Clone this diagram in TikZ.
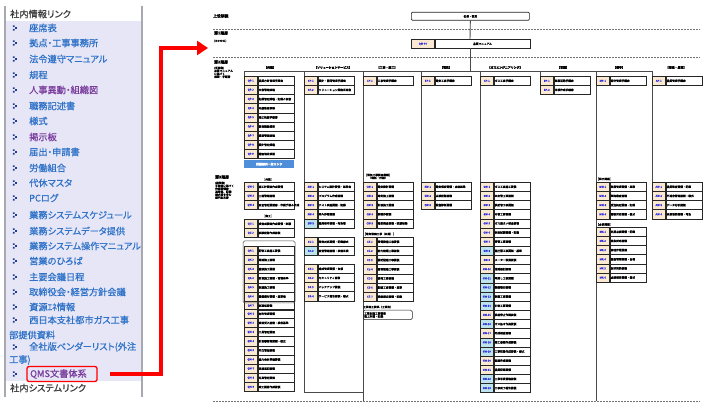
\documentclass[tikz,border=0pt]{standalone}
\usepackage{fontspec}
\setmainfont[RawFeature={+palt;embolden=0.7}]{Noto Sans CJK JP}
\newfontfamily\docf[RawFeature={embolden=0.6}]{Noto Sans CJK JP}
\usetikzlibrary{arrows.meta}
\definecolor{lav}{HTML}{E6E6F7}
\definecolor{panelgray}{HTML}{A8A8B0}
\definecolor{linkblue}{HTML}{2F72C8}
\definecolor{linkpurple}{HTML}{7A3C9C}
\definecolor{headgray}{HTML}{3A3A3A}
\definecolor{bulblue}{HTML}{203C90}
\definecolor{codeo}{HTML}{FCE9D2}
\definecolor{codeb}{HTML}{BDE3EC}
\definecolor{codetext}{HTML}{2A2AE0}
\definecolor{barblue}{HTML}{4F8FDA}
\definecolor{framegray}{HTML}{4A4A4A}
\newcommand\tinyf{\docf\fontsize{2.7}{2.95}\selectfont}
\newcommand\tinyb{\docf\bfseries\fontsize{2.9}{3.2}\selectfont}
\newcommand\levf{\docf\bfseries\fontsize{3.8}{4.2}\selectfont}
\newcommand\docrows[5]{%
  \foreach \ff/\dd [count=\rr] in {#5} {
    \node[codecell, fill=code\ff] (#3c\rr) at (#1,{#2+(\rr-1)*9.15}) {#4\rr};
    \node[desccell] (#3d\rr) at (#3c\rr.east) {\dd};
  }%
}
\tikzset{
  mitem/.style={anchor=west, inner sep=0pt, text=linkblue, font=\fontsize{9.2}{10}\selectfont},
  visited/.style={text=linkpurple},
  mhead/.style={anchor=west, inner sep=0pt, text=headgray, font=\fontsize{9.2}{10}\selectfont},
  bul/.pic={\fill[bulblue] (-1.6,-2.6) rectangle +(1.6,1.6) (-1.6,1.0) rectangle +(1.6,1.6) (0.7,-0.8) rectangle +(1.6,1.6);},
  codecell/.style={draw=black!85, line width=0.5pt, anchor=north west, minimum width=13pt, minimum height=9.15pt, inner sep=0pt, text=codetext, font=\tinyf},
  desccell/.style={draw=black!85, line width=0.5pt, anchor=west, minimum height=9.15pt, text width=34pt, inner xsep=1pt, inner ysep=0pt, align=left, font=\tinyf},
  frame/.style={draw=framegray, line width=0.9pt},
  lvldash/.style={draw=black!55, line width=0.8pt, dash pattern=on 2pt off 1pt},
  collab/.style={inner sep=0pt, font=\tinyb},
  grplab/.style={inner sep=0pt, font=\tinyf},
  redarrow/.style={draw=red, line width=3.6pt, -{Triangle[length=11pt,width=14pt]}},
}
\begin{document}
\begin{tikzpicture}[x=1pt,y=-1pt]
\useasboundingbox (0,0) rectangle (713,411);
\fill[white] (0,0) rectangle (713,411);

% ---------- left menu panel ----------
\fill[lav] (5,21) rectangle (142,381);
\draw[panelgray, line width=1.3pt] (5,6) -- (5,397);
\draw[panelgray, line width=1.3pt] (142,6) -- (142,397);

\node[mhead] (hd) at (10,14) {社内情報リンク};
\foreach \yy in {28,43,59,75,90,106,121,137,152,168,183,198,215,231,246,261,277,292,307,320,347,374}
  \pic at (14.5,\yy) {bul};
\node[mitem] (m1) at (29,28) {座席表};
\node[mitem] (m2) at (29,43) {拠点・工事事務所};
\node[mitem] (m3) at (29,59) {法令遵守マニュアル};
\node[mitem] (m4) at (29,75) {規程};
\node[mitem,visited] (m5) at (29,90) {人事異動・組織図};
\node[mitem] (m6) at (29,106) {職務記述書};
\node[mitem] (m7) at (29,121) {様式};
\node[mitem,visited] (m8) at (29,137) {掲示板};
\node[mitem] (m9) at (29,152) {届出・申請書};
\node[mitem] (m10) at (29,168) {労働組合};
\node[mitem] (m11) at (29,183) {代休マスタ};
\node[mitem] (m12) at (29,198) {PCログ};
\node[mitem] (m13) at (29,215) {業務システムスケジュール};
\node[mitem] (m14) at (29,231) {業務システムデータ提供};
\node[mitem] (m15) at (29,246) {業務システム操作マニュアル};
\node[mitem] (m16) at (29,261) {営業のひろば};
\node[mitem] (m17) at (29,277) {主要会議日程};
\node[mitem] (m18) at (29,292) {取締役会・経営方針会議};
\node[mitem] (m19) at (29,307) {資源ｴﾈ情報};
\node[mitem] (m20) at (29,320) {西日本支社都市ガス工事};
\node[mitem] (m20b) at (9,335) {部提供資料};
\node[mitem] (m21) at (29,347) {全社版ベンダーリスト(外注};
\node[mitem] (m21b) at (9,360) {工事)};
\node[mitem,visited] (qms) at (30,374) {QMS文書体系};
\draw[red, line width=1.3pt, rounded corners=2pt] (27,366.5) rectangle (97,381.5);
\node[mhead] (sys) at (10,388) {社内システムリンク};

% ---------- red arrow ----------
\coordinate (a0) at (110,374);
\coordinate (a1) at (208,48);
\draw[redarrow] (a0) -- ++(51,0) |- (a1);

% ---------- document: level labels ----------
\node[anchor=west, inner sep=0pt, font=\levf] (l0) at (213,16) {上位規程};
\draw[lvldash] (213,29) -- (700,29);
\node[anchor=west, inner sep=0pt, font=\levf] (l1) at (214,33) {第1階層};
\node[anchor=west, inner sep=0pt, font=\tinyf] (l1s) at (214,41) {(ISO9001)};
\draw[lvldash] (213,57) -- (700,57);
\node[anchor=west, inner sep=0pt, font=\levf] (l2) at (214,62) {第2階層};
\node[anchor=north west, inner sep=0pt, font=\tinyf, align=left] (l2s) at (214,66.5) {(手順書)\\品質マニュアル\\に基づく\\規程・手順書};
\node[anchor=west, inner sep=0pt, font=\levf] (l3) at (215,177) {第3階層};
\node[anchor=north west, inner sep=0pt, font=\tinyf, align=left] (l3s) at (215,181.5) {(要領書)\\手順書に基づく\\作業要領書・\\基準書、記録\\様式等を含む\\部門別文書};
\draw[lvldash] (213,401) -- (700,401);

% ---------- top boxes ----------
\node[draw=black!85, line width=0.7pt, rounded corners=1pt, anchor=north west, minimum width=118pt, minimum height=8pt, inner sep=0pt, font=\tinyf] (top) at (411,12) {社長・役員};
\node[draw=black!85, line width=0.7pt, fill=codeo, anchor=north west, minimum width=23pt, minimum height=9pt, inner sep=0pt, text=codetext, font=\tinyf] (qmc) at (411,39) {QM-00};
\node[draw=black!85, line width=0.7pt, anchor=west, minimum width=95pt, minimum height=9pt, inner sep=0pt, font=\tinyf] (qmd) at (qmc.east) {品質マニュアル};
\coordinate (qmb) at (470,48);
\coordinate (hub) at (470,71);
\draw[frame] (top.south) -- (470,39);
\draw[frame] (qmb) -- (hub);

% ---------- column frame lines ----------
\draw[frame] (244,76) -- (244,71) -- (652,71) -- (652,182);
\draw[frame] (304,71) -- (304,392) -- (363,392);
\draw[frame] (363,71) -- (363,401);
\draw[frame] (421,71) -- (421,182);
\draw[frame] (480,71) -- (480,182);
\draw[frame] (540,71) -- (540,76);
\draw[frame] (596,71) -- (596,401);

% column labels
\node[collab] (h1) at (270,67.5) {【共通】};
\node[collab] (h2) at (333,67.5) {【ソリューションサービス】};
\node[collab] (h3) at (387,67.5) {【工事・施工】};
\node[collab] (h4) at (446,67.5) {【電気】};
\node[collab] (h5) at (505,67.5) {【ガスエンジニアリング】};
\node[collab] (h6) at (563,67.5) {【営業】};
\node[collab] (h7) at (619,67.5) {【保守】};
\node[collab] (h8) at (676,67.5) {【管理・品質】};

% ---------- level 2 rows ----------
\docrows{244}{76}{ka}{QP-}{o/品質方針管理手順書, o/文書管理規程, o/記録管理規程・記録の保管, o/内部監査規程, o/是正処置手順書, o/教育訓練規程, o/購買管理規程, o/設計管理規程, o/顧客満足規程}
\node[anchor=north west, fill=barblue, minimum width=50pt, minimum height=8pt, inner sep=0pt, text=white, font=\tinyb] (bar) at (244,160) {記録様式一覧リンク};
\docrows{304}{76}{kb}{SP-}{o/設計・開発管理手順書, o/ソリューション業務手順書}
\docrows{363}{76}{kc}{CP-}{o/工事管理手順書}
\docrows{421}{76}{kd}{EP-}{o/電気工事手順書}
\docrows{480}{76}{ke}{GP-}{o/ガス工事手順書}
\docrows{540}{76}{kf}{BP-}{o/営業活動手順書, o/見積作成手順書}
\docrows{596}{76}{kg}{MP-}{o/保守管理手順書}
\docrows{652}{76}{kh}{AP-}{o/品質管理手順書}

% ---------- level 3 rows ----------
\node[grplab] (g1a) at (268,179.5) {［共通］};
\docrows{244}{182}{pa}{QW-}{o/施工計画書作成要領, o/工程管理要領, o/安全管理要領書・作業手順の作成}
\node[grplab] (g1b) at (268,216) {［施工］};
\docrows{244}{219}{pb}{QC-}{o/検査成績書作成要領・試験, o/試験記録作成要領}
\docrows{244}{246}{pc}{QK-}{o/配管工事施工要領, o/溶接施工要領, o/塗装施工要領, o/防食施工要領・管理基準, o/保温施工要領, o/機器据付要領・基準書, o/試運転要領}
\draw[black!70, line width=0.5pt, rounded corners=1.5pt] (243,241) rectangle (295,303);
\docrows{244}{309}{pd}{QM-}{o/材料管理要領, o/資材受入要領・検収基準, o/工具管理要領, o/計測器管理要領・校正, o/外注管理要領, o/協力会社評価要領, o/現場巡回要領, o/写真管理要領, o/竣工図書作成要領}

\docrows{304}{182}{qa}{SW-}{o/システム設計要領・基準書, o/プログラム作成要領, o/テスト実施要領・記録, o/導入作業要領, b/運用保守要領・報告書}
\docrows{304}{237}{qb}{SC-}{o/障害対応要領・記録様式, b/変更管理要領・承認手続}
\docrows{304}{264}{qc}{SK-}{o/構成管理要領・台帳, o/セキュリティ要領, o/バックアップ要領, o/サービス報告要領・様式}

\node[grplab, align=center] (g3a) at (378,176.5) {［電気工事関連書類］\\（電気・計装）};
\docrows{363}{182}{ra}{CW-}{o/電気設計要領, o/電気施工要領, o/計装施工要領, o/盤製作要領, o/電気検査要領・試験記録}
\node[grplab, anchor=west] (g3b) at (363,234) {［電気設備工事（共通）］};
\docrows{363}{237}{rb}{CE-}{o/受電設備工事要領, o/動力設備工事要領, o/照明設備工事要領, o/弱電設備工事要領, o/接地工事要領, o/配線工事要領・基準, o/絶縁測定要領・記録}
\node[grplab, anchor=west] (g3c) at (363,307) {工事施工関係（工事別）};
\node[draw=black!85, line width=0.5pt, rounded corners=1.5pt, anchor=north west, minimum width=49pt, minimum height=9.5pt, inner sep=0.5pt, text width=47pt, align=left, font=\tinyf] (rc1) at (363,310) {工事別施工要領書\\施工計画・記録};

\docrows{421}{182}{sa}{EW-}{o/電気保安要領・点検基準, o/点検記録要領, o/設備診断要領}

\docrows{480}{182}{ta}{GW-}{o/ガス工事施工要領, o/本支管工事要領, o/供給管工事要領, o/内管工事要領, o/ガス漏えい検査要領, o/気密試験要領・記録, o/導管工事要領, b/整圧器工事要領・基準, o/メーター設置要領, o/道路掘削要領, b/埋戻し工事要領, b/舗装復旧要領, b/防護工事要領, b/切替工事要領, o/供給停止作業要領, b/ガス抜き作業要領, o/完成検査要領, b/竣工書類作成要領, b/工事記録作成要領・様式, o/図面作成要領, o/品質記録要領, b/工事写真管理要領, b/工事完了報告要領}

\node[grplab, anchor=west] (g7a) at (596,179) {［保守関連］};
\docrows{596}{182}{ua}{MW-}{o/営業管理要領・基準, o/契約審査要領, o/受注処理要領・記録, o/顧客対応要領・様式}
\node[grplab, anchor=west] (g7b) at (596,224.5) {［点検関連］};
\docrows{596}{227}{ub}{MK-}{o/定期点検要領・記録, o/緊急対応要領, o/修理作業要領, o/部品管理要領・台帳, o/保守契約要領, o/点検報告要領・様式}

\docrows{652}{182}{va}{AW-}{o/品質監査要領・記録, o/不適合管理要領・様式, o/データ分析要領, o/改善活動要領・報告}
\end{tikzpicture}
\end{document}
